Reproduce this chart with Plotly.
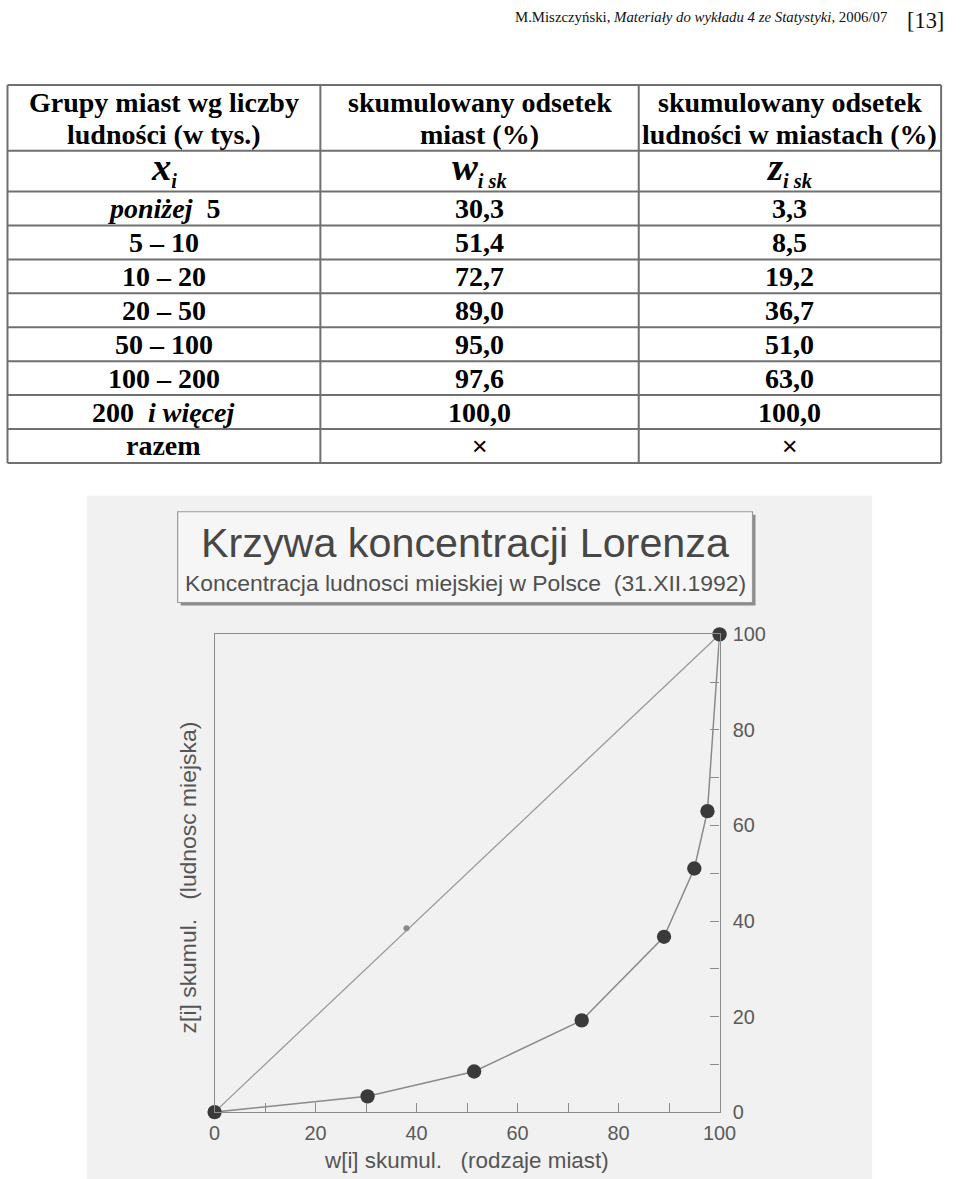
import plotly.graph_objects as go

W, H = 960, 1179
# measured mapping from page px to photographed px (calibration of the viewer)
SX, CX = 0.978, 5.0
SY, CY = 0.984, 7.9
K = 1 / 0.981  # size compensation

# ---------------- data ----------------
header_line1 = ["Grupy miast wg liczby", "skumulowany odsetek", "skumulowany odsetek"]
header_line2 = ["ludności (w tys.)", "miast (%)", "ludności w miastach (%)"]
symbol_main = ["x", "w", "z"]
symbol_sub = ["i", "i sk", "i sk"]
groups = ["poniżej 5", "5 – 10", "10 – 20", "20 – 50", "50 – 100", "100 – 200", "200 i więcej"]
w_sk = [30.3, 51.4, 72.7, 89.0, 95.0, 97.6, 100.0]
z_sk = [3.3, 8.5, 19.2, 36.7, 51.0, 63.0, 100.0]
total_label = "razem"
total_mark = "×"

lorenz_w = [0.0] + w_sk
lorenz_z = [0.0] + z_sk
equality = [0, 100]
diag_mark_w = [38]
diag_mark_z = [38.5]

page_note = "M.Miszczyński, <i>Materiały do wykładu 4 ze Statystyki</i>, 2006/07"
page_no = "[13]"
chart_title = "Krzywa koncentracji Lorenza"
chart_subtitle = "Koncentracja ludnosci miejskiej w Polsce\u00a0\u00a0(31.XII.1992)"
x_title = "w[i] skumul.\u00a0\u00a0\u00a0(rodzaje miast)"
y_title = "z[i] skumul.\u00a0\u00a0\u00a0(ludnosc miejska)"


def px(x):
    return ((x - CX) / SX) / W


def py(y):
    return 1 - ((y - CY) / SY) / H


def sz(v):
    return round(v * K, 1)


SERIF = "Liberation Serif, Times New Roman, serif"
SANS = "Liberation Sans, Arial, sans-serif"

fig = go.Figure()

fig.add_trace(go.Scatter(x=equality, y=equality, mode="lines",
                         line=dict(color="#9a9a9a", width=1.3),
                         hoverinfo="skip", showlegend=False, cliponaxis=False))
fig.add_trace(go.Scatter(x=diag_mark_w, y=diag_mark_z, mode="markers",
                         marker=dict(size=sz(6), color="#8a8a8a"),
                         hoverinfo="skip", showlegend=False, cliponaxis=False))
fig.add_trace(go.Scatter(x=lorenz_w, y=lorenz_z, mode="lines+markers",
                         line=dict(color="#8a8a8a", width=1.5),
                         marker=dict(size=sz(14), color="#3a3a3a"),
                         showlegend=False, cliponaxis=False))

shapes = []
annotations = []


def line(x0, y0, x1, y1, color="#707070", width=2):
    shapes.append(dict(type="line", xref="paper", yref="paper",
                       x0=px(x0), y0=py(y0), x1=px(x1), y1=py(y1),
                       line=dict(color=color, width=width), layer="above"))


def text(x, y, s, size, family, color="black", xanchor="center", angle=0):
    annotations.append(dict(xref="paper", yref="paper", x=px(x), y=py(y),
                            text=s, showarrow=False, xanchor=xanchor,
                            yanchor="middle", textangle=angle,
                            font=dict(size=sz(size), family=family, color=color)))


# ---------------- page header ----------------
text(513, 14, page_note, 14.5, SERIF, "#111", xanchor="left")
text(926, 17, page_no, 22, SERIF, "#111")

# ---------------- table ----------------
col_x = [6.5, 320, 639, 942]
col_c = [(col_x[i] + col_x[i + 1]) / 2 for i in range(3)]
t_top, head_bot, sym_bot, t_bot = 82, 148, 189, 461
n_rows = len(groups) + 1
row_h = (t_bot - sym_bot) / n_rows
row_edges = [sym_bot + i * row_h for i in range(n_rows + 1)]

for yy in [t_top, head_bot] + row_edges:
    line(col_x[0], yy, col_x[-1], yy)
for xx in col_x:
    line(xx, t_top, xx, t_bot)

FS = 27.5
for i in range(3):
    text(col_c[i], 100, "<b>" + header_line1[i] + "</b>", FS, SERIF)
    text(col_c[i], 132, "<b>" + header_line2[i] + "</b>", FS, SERIF)

for i in range(3):
    s = ("<b><i>" + symbol_main[i] + "</i></b><sub><span style='font-size:"
         + str(sz(20)) + "px'><b><i>" + symbol_sub[i] + "</i></b></span></sub>")
    text(col_c[i], (head_bot + sym_bot) / 2 - 2, s, 38, SERIF)


def fmt_group(g):
    g = g.replace("poniżej ", "<i>poniżej</i>\u00a0\u00a0")
    g = g.replace(" i więcej", "\u00a0\u00a0<i>i więcej</i>")
    return "<b>" + g + "</b>"


def fmt_num(v):
    return "<b>" + f"{v:.1f}".replace(".", ",") + "</b>"


for r in range(len(groups)):
    yc = (row_edges[r] + row_edges[r + 1]) / 2
    text(col_c[0], yc, fmt_group(groups[r]), FS, SERIF)
    text(col_c[1], yc, fmt_num(w_sk[r]), FS, SERIF)
    text(col_c[2], yc, fmt_num(z_sk[r]), FS, SERIF)
yc = (row_edges[-2] + row_edges[-1]) / 2
text(col_c[0], yc, "<b>" + total_label + "</b>", FS, SERIF)
text(col_c[1], yc, total_mark, 26, SANS)
text(col_c[2], yc, total_mark, 26, SANS)

# ---------------- scanned chart area ----------------
shapes.append(dict(type="rect", xref="paper", yref="paper",
                   x0=px(86), x1=px(873), y0=py(494), y1=py(1180),
                   fillcolor="#f1f1f1", line=dict(width=0), layer="below"))
shapes.append(dict(type="rect", xref="paper", yref="paper",
                   x0=px(180), x1=px(756), y0=py(513), y1=py(604),
                   fillcolor="#8c8c8c", line=dict(width=0), layer="below"))
shapes.append(dict(type="rect", xref="paper", yref="paper",
                   x0=px(177), x1=px(753), y0=py(510), y1=py(601),
                   fillcolor="#f6f6f6", line=dict(color="#9a9a9a", width=1.2),
                   layer="below"))
text(465, 541, chart_title, 40.5, SANS, "#474747")
text(465, 581, chart_subtitle, 22.5, SANS, "#505050")
text(466, 1161, x_title, 22, SANS, "#555555")
text(187, 877, y_title, 22.5, SANS, "#555555", angle=-90)

axis_font = dict(size=sz(19.5), family=SANS, color="#5a5a5a")
tick_common = dict(showgrid=False, zeroline=False,
                   showline=True, linecolor="#8c8c8c", linewidth=1.3, mirror=True,
                   ticks="inside", ticklen=sz(9), tickcolor="#8c8c8c", tickwidth=1.3,
                   tick0=0, dtick=20, tickfont=axis_font, range=[0, 100],
                   minor=dict(ticks="inside", dtick=10, ticklen=sz(9),
                              tickcolor="#8c8c8c", tickwidth=1.3, showgrid=False),
                   fixedrange=True)
fig.update_layout(
    width=W, height=H,
    margin=dict(l=0, r=0, t=0, b=0),
    paper_bgcolor="white",
    plot_bgcolor="rgba(0,0,0,0)",
    shapes=shapes,
    annotations=annotations,
    xaxis=dict(domain=[px(214), px(720)], ticklabelstandoff=3, **tick_common),
    yaxis=dict(domain=[py(1112), py(633)], side="right", ticklabelstandoff=8,
               **tick_common),
)

fig.write_html("out.html")
